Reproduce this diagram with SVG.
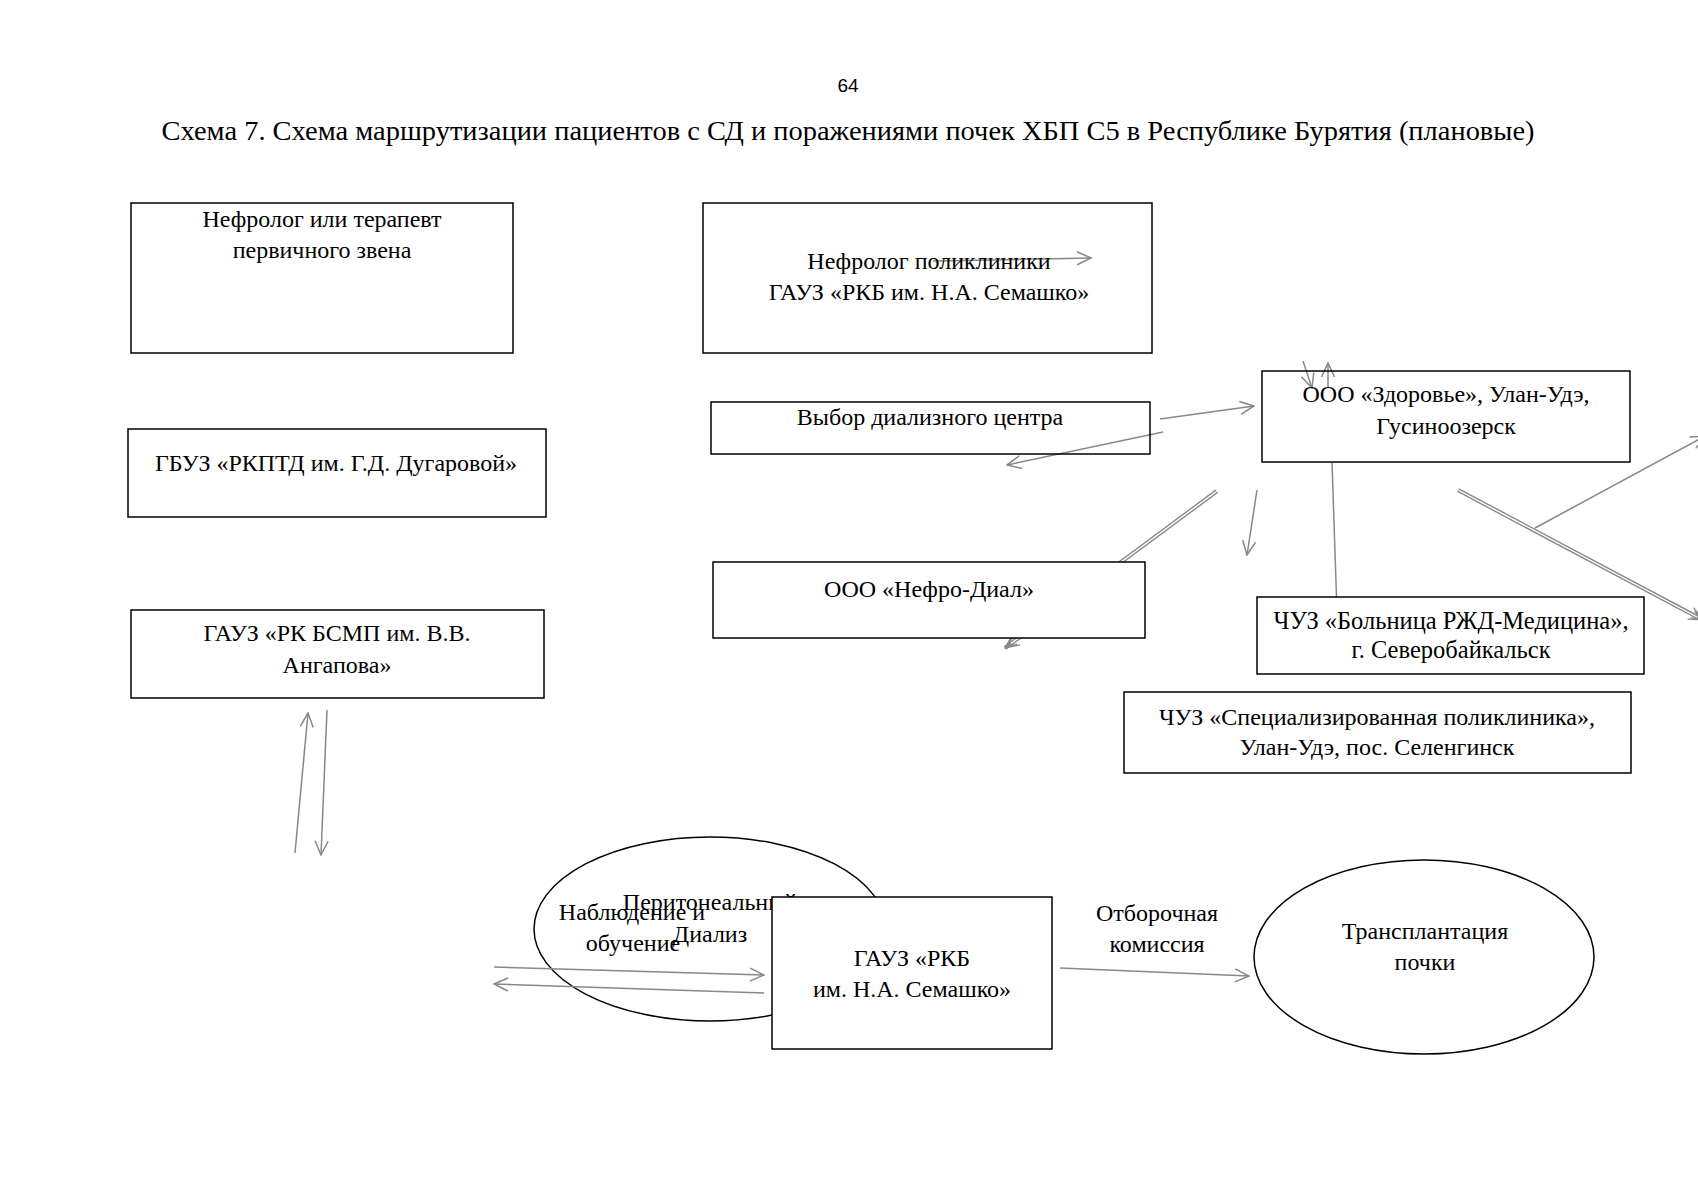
<svg xmlns="http://www.w3.org/2000/svg" width="1698" height="1200" viewBox="0 0 1698 1200">
<style>
  .bg { fill: #ffffff; }
  .box { fill: none; stroke: #000000; stroke-width: 1.5; }
  .boxw { fill: #ffffff; stroke: #000000; stroke-width: 1.5; }
  .t { font-family: "Liberation Serif", "Times New Roman", serif; font-size: 24px; fill: #000000; text-anchor: middle; }
  .title { font-family: "Liberation Serif", "Times New Roman", serif; font-size: 26.5px; fill: #000000; text-anchor: middle; }
  .pg { font-family: "Liberation Sans", Arial, sans-serif; font-size: 19px; fill: #000000; text-anchor: middle; }
  .c { fill: none; stroke: #888888; stroke-width: 1.5; }
  .dbl { fill: none; stroke: #8a8a8a; stroke-width: 4.2; }
  .dbli { fill: none; stroke: #ffffff; stroke-width: 1.4; }
</style>
<defs>
  <marker id="arr" viewBox="0 0 16 16" refX="15" refY="8" markerWidth="16" markerHeight="16" markerUnits="userSpaceOnUse" orient="auto">
    <path d="M1,1.5 L15,8 L1,14.5" fill="none" stroke="#888888" stroke-width="1.5"/>
  </marker>
  <marker id="arr2" viewBox="0 0 16 16" refX="15" refY="8" markerWidth="16" markerHeight="16" markerUnits="userSpaceOnUse" orient="auto">
    <path d="M1,1.5 L15,8 L1,14.5 M3,4 L13,8 L3,12" fill="none" stroke="#888888" stroke-width="1.2"/>
  </marker>
</defs>
<rect class="bg" x="0" y="0" width="1698" height="1200"/>

<text class="pg" x="848" y="92">64</text>
<text class="title" x="848" y="140" textLength="1373" lengthAdjust="spacingAndGlyphs">Схема 7. Схема маршрутизации пациентов с СД и поражениями почек ХБП С5 в Республике Бурятия (плановые)</text>

<g id="node-peritoneal">
  <ellipse class="box" cx="710" cy="929" rx="176" ry="92"/>
  <text class="t" x="710" y="910">Перитонеальный</text>
  <text class="t" x="710" y="942">Диализ</text>
</g>

<g id="connectors">
  <path class="c" d="M933,261 L1091,258" marker-end="url(#arr)"/>
  <path class="c" d="M1160,419 L1254,406" marker-end="url(#arr)"/>
  <path class="c" d="M1163,432 L1007,465" marker-end="url(#arr)"/>
  <path class="c" d="M1303,361 L1312,388" marker-end="url(#arr)"/>
  <path class="c" d="M1328,388 L1328,363" marker-end="url(#arr)"/>
  <path class="c" d="M1332,462 L1336.5,597"/>
  <path class="dbl" d="M1217,491 L1005,648" marker-end="url(#arr2)"/>
  <path class="dbli" d="M1217,491 L1011,643.5"/>
  <path class="c" d="M1257,490 L1247,555" marker-end="url(#arr)"/>
  <path class="dbl" d="M1458,490 L1703,620" marker-end="url(#arr2)"/>
  <path class="dbli" d="M1458,490 L1697,617"/>
  <path class="c" d="M1535,528 L1705,436" marker-end="url(#arr)"/>
  <path class="c" d="M295,853 L308,713" marker-end="url(#arr)"/>
  <path class="c" d="M327,710 L321,855" marker-end="url(#arr)"/>
  <path class="c" d="M494,967 L764,975" marker-end="url(#arr)"/>
  <path class="c" d="M764,993 L494,984" marker-end="url(#arr)"/>
  <path class="c" d="M1060,968 L1249,976" marker-end="url(#arr)"/>
  <text class="t" x="632" y="920">Наблюдение и</text>
  <text class="t" x="633" y="951">обучение</text>
  <text class="t" x="1157" y="921">Отборочная</text>
  <text class="t" x="1157" y="952">комиссия</text>
</g>

<g id="node-primary">
  <rect class="box" x="131" y="203" width="382" height="150"/>
  <text class="t" x="322" y="227">Нефролог или терапевт</text>
  <text class="t" x="322" y="258">первичного звена</text>
</g>
<g id="node-nephrologist">
  <rect class="box" x="703" y="203" width="449" height="150"/>
  <text class="t" x="929" y="269">Нефролог поликлиники</text>
  <text class="t" x="929" y="300">ГАУЗ «РКБ им. Н.А. Семашко»</text>
</g>
<g id="node-rkptd">
  <rect class="box" x="128" y="429" width="418" height="88"/>
  <text class="t" x="336" y="471">ГБУЗ «РКПТД им. Г.Д. Дугаровой»</text>
</g>
<g id="node-bsmp">
  <rect class="box" x="131" y="610" width="413" height="88"/>
  <text class="t" x="337" y="641">ГАУЗ «РК БСМП им. В.В.</text>
  <text class="t" x="337" y="673">Ангапова»</text>
</g>
<g id="node-choice">
  <rect class="box" x="711" y="402" width="439" height="52"/>
  <text class="t" x="930" y="425">Выбор диализного центра</text>
</g>
<g id="node-zdorovie">
  <rect class="box" x="1262" y="371" width="368" height="91"/>
  <text class="t" x="1446" y="402">ООО «Здоровье», Улан-Удэ,</text>
  <text class="t" x="1446" y="434">Гусиноозерск</text>
</g>
<g id="node-nefrodial">
  <rect class="boxw" x="713" y="562" width="432" height="76"/>
  <text class="t" x="929" y="597">ООО «Нефро-Диал»</text>
</g>
<g id="node-rzd">
  <rect class="box" x="1257" y="597" width="387" height="77"/>
  <text class="t" x="1451" y="629" style="font-size:24.5px">ЧУЗ «Больница РЖД-Медицина»,</text>
  <text class="t" x="1451" y="658" style="font-size:24.5px">г. Северобайкальск</text>
</g>
<g id="node-spec">
  <rect class="box" x="1124" y="692" width="507" height="81"/>
  <text class="t" x="1377" y="725">ЧУЗ «Специализированная поликлиника»,</text>
  <text class="t" x="1377" y="755">Улан-Удэ, пос. Селенгинск</text>
</g>
<g id="node-rkb">
  <rect class="boxw" x="772" y="897" width="280" height="152"/>
  <text class="t" x="912" y="966">ГАУЗ «РКБ</text>
  <text class="t" x="912" y="997">им. Н.А. Семашко»</text>
</g>
<g id="node-transplant">
  <ellipse class="box" cx="1424" cy="957" rx="170" ry="97"/>
  <text class="t" x="1425" y="939">Трансплантация</text>
  <text class="t" x="1425" y="970">почки</text>
</g>
</svg>
